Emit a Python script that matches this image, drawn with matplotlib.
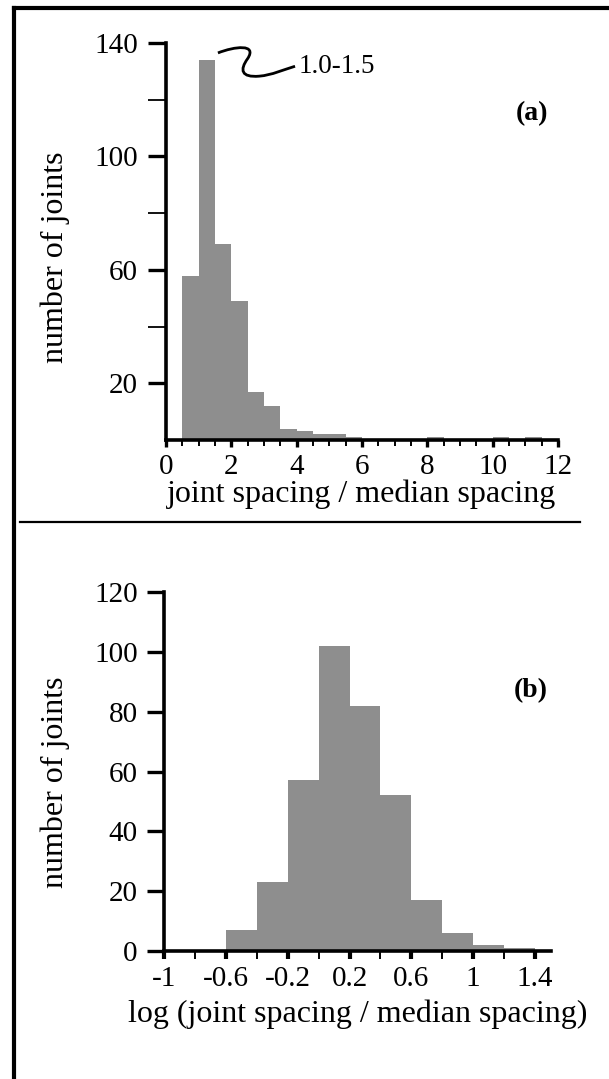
import numpy as np
import matplotlib
matplotlib.use("Agg")
import matplotlib.pyplot as plt
from matplotlib.path import Path
from matplotlib.patches import PathPatch
from matplotlib.lines import Line2D
from matplotlib.ticker import MultipleLocator, FixedLocator

plt.rcParams['font.family'] = ['Liberation Serif', 'DejaVu Serif']

# (a) joint spacing / median spacing, bins of 0.5
edges_a = np.arange(0.5, 12.0, 0.5)
counts_a = [58, 134, 69, 49, 17, 12, 4, 3, 2, 2, 1, 0, 0, 0, 0,
            1, 0, 0, 0, 1, 0, 1, 0]

# (b) log(joint spacing / median spacing), bins of 0.2
edges_b = [-0.6, -0.4, -0.2, 0.0, 0.2, 0.4, 0.6, 0.8, 1.0, 1.2]
counts_b = [7, 23, 57, 102, 82, 52, 17, 6, 2, 1]

xticks_b = [-1, -0.6, -0.2, 0.2, 0.6, 1.0, 1.4]
xlabels_b = ['-1', '-0.6', '-0.2', '0.2', '0.6', '1', '1.4']

gray = '#8e8e8e'
fs_tick = 21
fs_lab = 23

W, H = 609, 1079
fig = plt.figure(figsize=(W / 100, H / 100), dpi=100)

def style(ax):
    for s in ['top', 'right']:
        ax.spines[s].set_visible(False)
    for s in ['left', 'bottom']:
        ax.spines[s].set_linewidth(2.6)
        ax.spines[s].set_capstyle('projecting')

# ---- panel (a)
ax1 = fig.add_axes([166 / W, 1 - 440 / H, 392 / W, 397 / H])
ax1.bar(edges_a, counts_a, width=0.5, align='edge', color=gray, linewidth=0)
ax1.set_xlim(0, 12)
ax1.set_ylim(0, 140)
style(ax1)
ax1.yaxis.set_major_locator(FixedLocator([20, 60, 100, 140]))
ax1.yaxis.set_minor_locator(FixedLocator([40, 80, 120]))
ax1.xaxis.set_major_locator(MultipleLocator(2))
ax1.xaxis.set_minor_locator(MultipleLocator(0.5))
ax1.tick_params(axis='y', which='major', length=13, width=2.4, pad=7, labelsize=fs_tick)
ax1.tick_params(axis='y', which='minor', length=13, width=1.3)
ax1.tick_params(axis='x', which='major', length=5, width=2.4, pad=5, labelsize=fs_tick)
ax1.tick_params(axis='x', which='minor', length=4, width=1.4)
ax1.set_xlabel('joint spacing / median spacing', fontsize=fs_lab, labelpad=0)
ax1.set_ylabel('number of joints', fontsize=fs_lab, va='center')
ax1.yaxis.set_label_coords(-0.282, 0.46)
ax1.text(11.7, 115, '(a)', fontsize=20, fontweight='bold', ha='right', va='center')

# squiggle pointing to the tallest bar
verts = [(1.59, 136.5), (2.1, 138.8), (2.8, 139.8), (2.5, 134.5),
         (2.25, 130.5), (2.3, 127.8), (2.85, 128.3),
         (3.25, 128.7), (3.6, 130.6), (3.95, 131.8)]
codes = [Path.MOVETO] + [Path.CURVE4] * 9
ax1.add_patch(PathPatch(Path(verts, codes), facecolor='none', edgecolor='black',
                        lw=2.0, clip_on=False))
ax1.text(4.05, 131.6, '1.0-1.5', fontsize=19.5, ha='left', va='center')

# ---- panel (b)
ax2 = fig.add_axes([164 / W, 1 - 951 / H, 386.5 / W, 359 / H])
ax2.bar(edges_b, counts_b, width=0.2, align='edge', color=gray, linewidth=0)
ax2.set_xlim(-1, 1.5)
ax2.set_ylim(0, 120)
style(ax2)
ax2.yaxis.set_major_locator(MultipleLocator(20))
ax2.xaxis.set_major_locator(FixedLocator(xticks_b))
ax2.set_xticklabels(xlabels_b)
ax2.xaxis.set_minor_locator(FixedLocator([-0.8, -0.4, 0.0, 0.4, 0.8, 1.2]))
ax2.tick_params(axis='y', which='major', length=12, width=2.4, pad=7, labelsize=fs_tick)
ax2.tick_params(axis='x', which='major', length=6, width=3.0, pad=4.5, labelsize=fs_tick)
ax2.tick_params(axis='x', which='minor', length=6, width=1.4)
ax2.set_xlabel('log (joint spacing / median spacing)', fontsize=fs_lab, labelpad=6)
ax2.set_ylabel('number of joints', fontsize=fs_lab, va='center')
ax2.yaxis.set_label_coords(-0.282, 0.47)
ax2.text(1.48, 87, '(b)', fontsize=20, fontweight='bold', ha='right', va='center')

# frame and separator
fig.add_artist(Line2D([14 / W, 14 / W], [0, 1 - 8 / H], color='black', lw=3,
                      transform=fig.transFigure))
fig.add_artist(Line2D([14 / W, 1], [1 - 8 / H, 1 - 8 / H], color='black', lw=3,
                      transform=fig.transFigure))
fig.add_artist(Line2D([20 / W, 580 / W], [1 - 522 / H, 1 - 522 / H], color='black',
                      lw=1.6, transform=fig.transFigure))

fig.savefig('out.png', dpi=100)
